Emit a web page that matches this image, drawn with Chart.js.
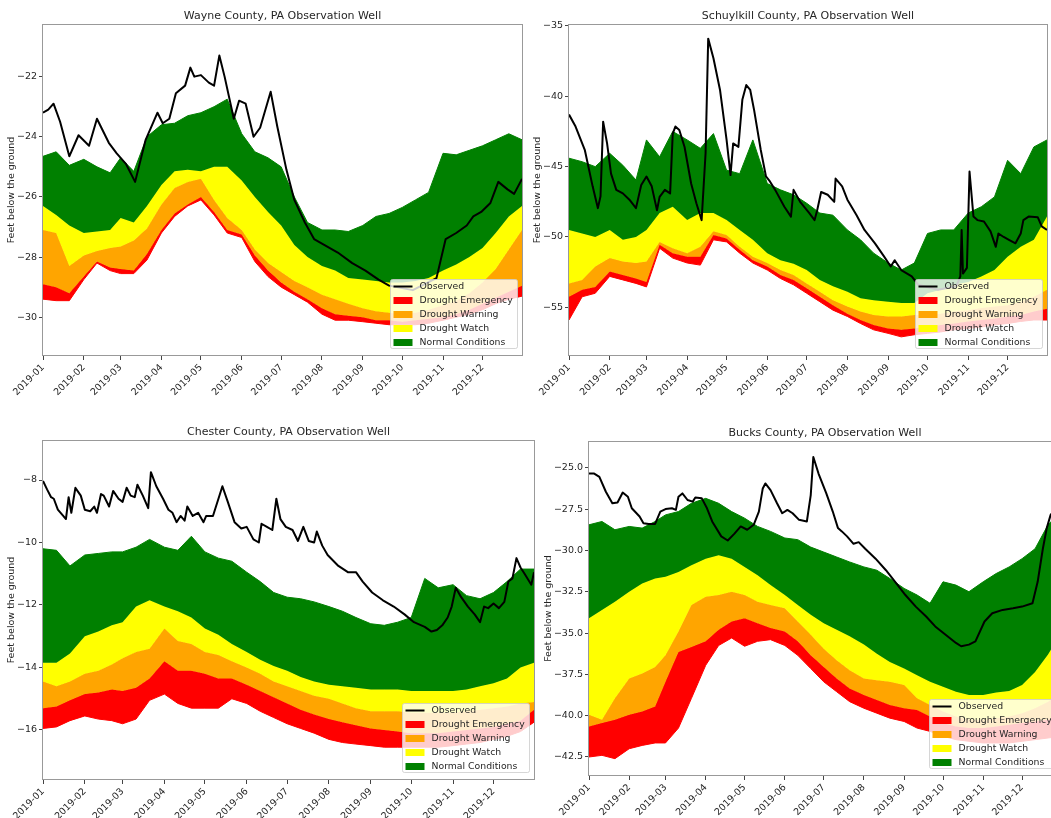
<!DOCTYPE html>
<html>
<head>
<meta charset="utf-8">
<title>Observation wells 2019</title>
<script src="https://cdn.jsdelivr.net/npm/chart.js@4.4.1/dist/chart.umd.min.js"></script>
<style>
  html, body { margin: 0; padding: 0; background: #fff; overflow: hidden; }
  body { width: 1051px; height: 818px; position: relative; }
  canvas { position: absolute; }
</style>
</head>
<body>
<canvas id="wayne"></canvas>
<canvas id="schuylkill"></canvas>
<canvas id="chester"></canvas>
<canvas id="bucks"></canvas>
<script>
// day-of-year sample points shared by all drought band boundaries
const days = [0,10,20,31,41,51,59,69,79,90,100,110,120,130,140,151,161,171,181,191,201,212,222,232,243,253,263,273,283,293,304,314,324,334,344,354,364];
const monthDays = [0,31,59,90,120,151,181,212,243,273,304,334];
const monthLabels = ['2019-01','2019-02','2019-03','2019-04','2019-05','2019-06','2019-07','2019-08','2019-09','2019-10','2019-11','2019-12'];

// Wayne County
const wayneObsDays = [0,4,8,13,20,27,35,41,50,56,63,70,78,87,91,96,101,108,112,115,120,126,130,134,138,145,149,154,160,165,173,178,185,191,199,206,214,224,235,245,255,263,281,299,306,314,322,327,333,340,346,353,358,364];
const wayneObs = [-23.2,-23.1,-22.9,-23.5,-24.65,-23.95,-24.3,-23.4,-24.2,-24.55,-24.9,-25.5,-24.1,-23.2,-23.55,-23.4,-22.55,-22.3,-21.7,-22.0,-21.95,-22.2,-22.3,-21.3,-22.0,-23.4,-22.8,-22.9,-24.0,-23.7,-22.5,-23.65,-25.1,-26.1,-26.85,-27.4,-27.6,-27.85,-28.2,-28.45,-28.75,-28.95,-29.1,-28.7,-27.4,-27.2,-26.95,-26.65,-26.5,-26.2,-25.5,-25.75,-25.9,-25.4];
const wayneNormal = [-24.65,-24.5,-24.95,-24.75,-25.0,-25.2,-24.7,-25.15,-24.0,-23.6,-23.55,-23.3,-23.2,-23.0,-22.75,-23.9,-24.5,-24.7,-25.0,-26.0,-26.85,-27.1,-27.1,-27.15,-26.95,-26.65,-26.55,-26.35,-26.1,-25.85,-24.55,-24.6,-24.45,-24.3,-24.1,-23.9,-24.1];
const wayneWatch = [-26.3,-26.6,-26.95,-27.2,-27.15,-27.1,-26.7,-26.85,-26.3,-25.6,-25.15,-25.1,-25.15,-25.0,-25.0,-25.45,-26.0,-26.5,-26.95,-27.6,-28.0,-28.3,-28.45,-28.7,-28.75,-28.8,-28.85,-28.85,-28.8,-28.7,-28.45,-28.25,-28.0,-27.7,-27.2,-26.65,-26.3];
const wayneWarning = [-27.1,-27.2,-28.3,-27.95,-27.8,-27.7,-27.65,-27.45,-27.05,-26.25,-25.7,-25.5,-25.4,-26.1,-26.7,-27.1,-27.75,-28.2,-28.5,-28.8,-29.0,-29.25,-29.4,-29.55,-29.7,-29.8,-29.85,-29.9,-29.85,-29.75,-29.6,-29.45,-29.2,-28.85,-28.4,-27.75,-27.1];
const wayneEmergency = [-28.9,-29.0,-29.2,-28.65,-28.15,-28.35,-28.4,-28.45,-27.9,-27.1,-26.55,-26.25,-26.0,-26.5,-27.1,-27.25,-27.95,-28.45,-28.85,-29.15,-29.4,-29.7,-29.9,-29.95,-30.0,-30.1,-30.1,-30.15,-30.1,-30.05,-30.0,-29.9,-29.75,-29.55,-29.35,-29.15,-28.95];
const wayneFloor = [-29.4,-29.45,-29.45,-28.75,-28.2,-28.45,-28.55,-28.55,-28.1,-27.2,-26.65,-26.3,-26.1,-26.6,-27.2,-27.35,-28.15,-28.65,-29.0,-29.25,-29.5,-29.9,-30.1,-30.1,-30.15,-30.2,-30.25,-30.25,-30.25,-30.2,-30.1,-30.0,-29.9,-29.75,-29.55,-29.4,-29.3];
const wayneYTicks = [-30,-28,-26,-24,-22];

// Schuylkill County
const schObsDays = [0,5,12,18,22,24,26,29,32,36,41,46,51,55,59,63,67,69,73,77,79,81,84,88,93,97,101,104,106,110,115,120,123,125,129,132,135,138,141,146,150,153,157,164,169,171,176,183,187,189,192,197,202,203,208,212,219,225,233,240,245,248,253,261,266,281,295,298,299,300,303,305,308,311,316,321,325,327,331,335,340,344,346,350,357,360,364];
const schObs = [-41.3,-42.15,-43.8,-46.4,-47.95,-47.1,-41.8,-43.35,-45.5,-46.65,-46.9,-47.35,-47.95,-46.3,-45.7,-46.4,-48.1,-47.15,-46.65,-46.9,-42.65,-42.15,-42.4,-43.6,-46.2,-47.6,-48.8,-44.05,-35.9,-37.3,-39.55,-43.1,-45.6,-43.35,-43.6,-40.25,-39.2,-39.55,-41.0,-43.8,-45.7,-46.05,-46.65,-47.85,-48.55,-46.65,-47.5,-48.3,-48.8,-48.1,-46.8,-47.0,-47.5,-45.85,-46.4,-47.35,-48.45,-49.5,-50.45,-51.4,-52.1,-51.65,-52.35,-52.8,-53.4,-53.75,-53.5,-52.8,-49.5,-52.6,-52.2,-45.35,-48.55,-48.8,-48.9,-49.6,-50.7,-49.75,-50.0,-50.2,-50.45,-49.75,-48.8,-48.55,-48.6,-49.25,-49.5];
const schNormal = [-44.4,-44.65,-45.0,-44.05,-44.9,-45.95,-43.1,-44.3,-42.5,-43.1,-43.7,-42.65,-45.25,-45.5,-43.1,-46.2,-46.65,-47.0,-47.6,-48.3,-48.45,-49.5,-50.2,-51.15,-51.85,-52.35,-51.85,-49.75,-49.5,-49.5,-48.3,-47.85,-47.15,-44.55,-45.5,-43.6,-43.1];
const schWatch = [-49.5,-49.75,-50.0,-49.5,-50.2,-50.0,-49.5,-48.3,-47.85,-48.8,-48.3,-48.3,-48.8,-49.5,-50.2,-51.15,-51.65,-51.9,-52.35,-53.05,-53.5,-53.9,-54.35,-54.5,-54.6,-54.7,-54.7,-54.0,-53.75,-53.4,-53.2,-52.8,-52.35,-51.4,-50.7,-50.2,-48.55];
const schWarning = [-53.3,-53.05,-52.1,-51.5,-51.75,-51.85,-51.75,-50.35,-50.8,-51.15,-50.7,-49.6,-49.85,-50.7,-51.4,-51.85,-52.35,-52.7,-53.3,-53.9,-54.5,-54.95,-55.3,-55.55,-55.65,-55.65,-55.55,-55.55,-55.45,-55.3,-55.2,-55.05,-54.95,-54.85,-54.6,-54.25,-53.75];
const schEmergency = [-54.25,-53.75,-53.55,-52.45,-52.7,-52.95,-53.2,-50.55,-51.15,-51.4,-51.4,-49.85,-50.1,-50.9,-51.65,-52.1,-52.7,-53.05,-53.65,-54.25,-54.85,-55.45,-55.9,-56.25,-56.5,-56.6,-56.5,-56.35,-56.25,-56.15,-56.0,-55.9,-55.8,-55.65,-55.55,-55.3,-55.1];
const schFloor = [-55.9,-54.25,-54.0,-52.8,-53.05,-53.3,-53.55,-50.8,-51.5,-51.85,-52.0,-50.2,-50.35,-51.15,-51.85,-52.35,-52.95,-53.4,-54.0,-54.6,-55.2,-55.65,-56.15,-56.6,-56.85,-57.1,-56.95,-56.85,-56.75,-56.6,-56.5,-56.4,-56.25,-56.15,-56.0,-55.9,-55.9];
const schYTicks = [-55,-50,-45,-40,-35];

// Chester County
const chesterObsDays = [0,3,6,8,11,15,17,19,21,24,28,31,35,38,40,43,45,49,52,56,59,62,65,68,70,74,78,80,84,89,93,96,99,102,105,107,111,115,119,121,126,133,137,142,147,151,156,160,162,166,170,173,176,180,185,189,193,197,201,203,207,211,219,226,232,237,244,252,260,268,275,283,288,292,296,300,303,306,310,315,320,324,327,330,334,338,342,345,348,351,354,357,362,364];
const chesterObs = [-8.03,-8.3,-8.55,-8.6,-8.95,-9.15,-9.25,-8.55,-9.05,-8.25,-8.5,-8.95,-9.0,-8.85,-9.05,-8.45,-8.5,-8.85,-8.35,-8.6,-8.7,-8.25,-8.5,-8.55,-8.15,-8.5,-8.9,-7.75,-8.2,-8.6,-8.95,-9.05,-9.35,-9.15,-9.3,-8.85,-9.15,-9.05,-9.35,-9.15,-9.15,-8.2,-8.7,-9.35,-9.55,-9.5,-9.9,-10.0,-9.4,-9.5,-9.6,-8.6,-9.25,-9.5,-9.6,-9.95,-9.5,-9.95,-10.0,-9.65,-10.1,-10.4,-10.75,-10.95,-10.95,-11.25,-11.6,-11.85,-12.05,-12.3,-12.55,-12.7,-12.85,-12.8,-12.65,-12.4,-12.05,-11.45,-11.75,-12.05,-12.3,-12.55,-12.05,-12.1,-11.95,-12.1,-11.9,-11.25,-11.15,-10.5,-10.8,-11.0,-11.35,-10.95];
const chesterNormal = [-10.2,-10.25,-10.75,-10.4,-10.35,-10.3,-10.3,-10.15,-9.9,-10.15,-10.25,-9.8,-10.3,-10.5,-10.6,-10.95,-11.25,-11.6,-11.75,-11.8,-11.9,-12.05,-12.2,-12.4,-12.6,-12.65,-12.55,-12.4,-11.15,-11.45,-11.35,-11.7,-11.8,-11.6,-11.25,-10.85,-10.85];
const chesterWatch = [-13.85,-13.85,-13.55,-13.0,-12.85,-12.65,-12.55,-12.05,-11.85,-12.05,-12.2,-12.4,-12.75,-12.95,-13.25,-13.5,-13.75,-13.95,-14.1,-14.3,-14.45,-14.55,-14.6,-14.65,-14.7,-14.7,-14.7,-14.75,-14.75,-14.75,-14.75,-14.7,-14.6,-14.5,-14.35,-14.0,-13.85];
const chesterWarning = [-14.45,-14.6,-14.45,-14.2,-14.1,-13.9,-13.7,-13.5,-13.4,-12.75,-13.15,-13.25,-13.5,-13.6,-13.8,-14.0,-14.2,-14.45,-14.6,-14.75,-14.9,-15.0,-15.15,-15.3,-15.4,-15.4,-15.4,-15.45,-15.45,-15.45,-15.45,-15.4,-15.35,-15.3,-15.25,-15.15,-15.1];
const chesterEmergency = [-15.3,-15.25,-15.05,-14.85,-14.8,-14.7,-14.75,-14.65,-14.35,-13.8,-14.1,-14.1,-14.2,-14.35,-14.35,-14.55,-14.75,-14.95,-15.15,-15.35,-15.5,-15.65,-15.75,-15.85,-15.95,-16.0,-16.05,-16.1,-16.1,-16.1,-16.05,-16.0,-15.95,-15.9,-15.8,-15.7,-15.35];
const chesterFloor = [-15.95,-15.9,-15.7,-15.55,-15.65,-15.7,-15.8,-15.65,-15.05,-14.85,-15.15,-15.3,-15.3,-15.3,-15.0,-15.15,-15.4,-15.6,-15.8,-15.95,-16.1,-16.3,-16.4,-16.45,-16.5,-16.55,-16.55,-16.55,-16.55,-16.55,-16.5,-16.45,-16.4,-16.3,-16.2,-16.05,-15.75];
const chesterYTicks = [-16,-14,-12,-10,-8];

// Bucks County
const bucksObsDays = [0,4,8,13,18,22,26,30,33,39,42,46,51,55,59,64,67,69,72,76,80,82,87,91,95,102,107,112,117,122,127,131,134,136,140,145,149,153,157,162,168,171,173,177,183,188,192,195,199,204,208,213,221,229,237,244,252,260,267,275,283,287,293,298,305,311,319,327,334,342,346,350,353,356,364];
const bucksObs = [-25.35,-25.35,-25.55,-26.45,-27.15,-27.1,-26.5,-26.75,-27.45,-27.95,-28.35,-28.4,-28.4,-27.65,-27.5,-27.45,-27.55,-26.75,-26.55,-26.95,-27.05,-26.8,-26.85,-27.45,-28.25,-29.15,-29.4,-29.0,-28.55,-28.75,-28.45,-27.65,-26.25,-25.95,-26.35,-27.15,-27.75,-27.55,-27.75,-28.15,-28.25,-26.65,-24.35,-25.35,-26.55,-27.65,-28.65,-28.85,-29.15,-29.6,-29.5,-29.9,-30.5,-31.2,-32.0,-32.7,-33.4,-34.0,-34.6,-35.1,-35.6,-35.8,-35.7,-35.5,-34.3,-33.8,-33.6,-33.5,-33.4,-33.2,-31.9,-29.9,-28.65,-27.85,-27.05];
const bucksNormal = [-28.45,-28.25,-28.75,-28.55,-28.65,-28.25,-27.85,-27.65,-27.15,-26.85,-27.15,-27.65,-28.05,-28.55,-28.85,-29.25,-29.35,-29.8,-30.1,-30.4,-30.7,-31.0,-31.2,-31.7,-32.3,-32.7,-33.2,-31.9,-32.1,-32.5,-31.9,-31.4,-31.0,-30.5,-29.9,-28.45,-27.65];
const bucksWatch = [-34.1,-33.6,-33.1,-32.5,-32.0,-31.7,-31.6,-31.3,-30.9,-30.5,-30.3,-30.5,-31.0,-31.5,-32.1,-32.7,-33.3,-33.9,-34.4,-34.8,-35.2,-35.7,-36.25,-36.75,-37.15,-37.55,-37.95,-38.25,-38.55,-38.75,-38.75,-38.6,-38.5,-38.15,-37.35,-36.3,-35.0];
const bucksWarning = [-39.95,-40.25,-38.95,-37.75,-37.45,-37.05,-36.35,-34.9,-33.3,-32.8,-32.7,-32.5,-32.7,-33.1,-33.3,-33.5,-34.3,-35.1,-35.95,-36.65,-37.25,-37.75,-37.85,-37.95,-38.15,-38.95,-39.35,-39.75,-40.05,-40.25,-40.25,-40.15,-40.05,-39.85,-39.55,-39.15,-38.55];
const bucksEmergency = [-40.65,-40.45,-40.25,-39.95,-39.75,-39.45,-37.95,-36.15,-35.85,-35.5,-34.8,-34.3,-34.1,-34.4,-34.7,-34.9,-35.5,-36.35,-37.05,-37.75,-38.35,-38.75,-39.05,-39.35,-39.55,-39.65,-40.05,-40.45,-40.65,-40.75,-40.75,-40.65,-40.55,-40.45,-40.35,-40.25,-40.15];
const bucksFloor = [-42.5,-42.4,-42.6,-42.0,-41.8,-41.65,-41.65,-40.75,-38.95,-36.95,-35.75,-35.3,-35.8,-35.5,-35.4,-35.75,-36.35,-37.15,-37.95,-38.55,-39.15,-39.55,-39.85,-40.15,-40.35,-40.75,-40.95,-41.25,-41.45,-41.55,-41.65,-41.65,-41.65,-41.55,-41.45,-41.35,-41.25];
const bucksYTicks = [-42.5,-40,-37.5,-35,-32.5,-30,-27.5,-25];

Chart.defaults.font.family = "'DejaVu Sans', sans-serif";
Chart.defaults.color = '#262626';

const GREEN = '#008000', YELLOW = '#ffff00', ORANGE = '#ffa500', RED = '#ff0000';
const TITLE_H = 24, XAXIS_H = 52, PAD_R = 4;
const LEGEND_ORDER = ['Observed', 'Drought Emergency', 'Drought Warning', 'Drought Watch', 'Normal Conditions'];

function feet(v, dec) {
  return (v < 0 ? '\u2212' : '') + Math.abs(v).toFixed(dec);
}

// all four spines around the plot area
const frame = {
  id: 'frame',
  afterDatasetsDraw(chart) {
    const {ctx, chartArea: a} = chart;
    ctx.save();
    ctx.strokeStyle = '#999';
    ctx.lineWidth = 1;
    ctx.strokeRect(Math.round(a.left) - 0.5, Math.round(a.top) + 0.5,
      Math.round(a.right - a.left) + 1, Math.round(a.bottom - a.top) - 1);
    ctx.restore();
  }
};

// lower-right legend box, drawn over the bands
const boxLegend = {
  id: 'boxLegend',
  afterDraw(chart) {
    const {ctx, chartArea: a} = chart;
    const w = 127, h = 69, row = 14, r = 2;
    const x0 = Math.round(a.right - 5 - w) + 0.5, y0 = Math.round(a.bottom - 8 - h) + 0.5;
    ctx.save();
    ctx.beginPath();
    ctx.moveTo(x0 + r, y0);
    ctx.arcTo(x0 + w, y0, x0 + w, y0 + h, r);
    ctx.arcTo(x0 + w, y0 + h, x0, y0 + h, r);
    ctx.arcTo(x0, y0 + h, x0, y0, r);
    ctx.arcTo(x0, y0, x0 + w, y0, r);
    ctx.closePath();
    ctx.fillStyle = 'rgba(255,255,255,0.8)';
    ctx.fill();
    ctx.strokeStyle = 'rgba(204,204,204,0.8)';
    ctx.lineWidth = 1;
    ctx.stroke();
    ctx.font = "9.3px 'DejaVu Sans'";
    ctx.textBaseline = 'middle';
    LEGEND_ORDER.forEach((label, i) => {
      const ds = chart.data.datasets.find(d => d.label === label);
      const y = y0 + 7 + i * row;
      if (label === 'Observed') {
        ctx.strokeStyle = ds.borderColor;
        ctx.lineWidth = 2;
        ctx.beginPath();
        ctx.moveTo(x0 + 3, y);
        ctx.lineTo(x0 + 22, y);
        ctx.stroke();
      } else {
        ctx.fillStyle = ds.backgroundColor;
        ctx.fillRect(x0 + 3, y - 3.5, 19, 7);
      }
      ctx.fillStyle = '#262626';
      ctx.fillText(label, x0 + 29, y + 0.5);
    });
    ctx.restore();
  }
};

function band(label, color, values) {
  return {
    label: label,
    data: days.map((d, i) => ({x: d, y: values[i]})),
    backgroundColor: color,
    borderColor: color,
    borderWidth: 1,
    fill: '+1'
  };
}

function wellChart(id, title, box, axisW, yMin, yMax, yTicks, dec, obsDays, obs, normal, watch, warning, emergency, floor) {
  const canvas = document.getElementById(id);
  const w = box.r - box.l + axisW + PAD_R;
  const h = box.b - box.t + TITLE_H + XAXIS_H;
  canvas.width = w;
  canvas.height = h;
  canvas.style.width = w + 'px';
  canvas.style.height = h + 'px';
  canvas.style.left = (box.l - axisW) + 'px';
  canvas.style.top = (box.t - TITLE_H) + 'px';

  new Chart(canvas, {
    type: 'line',
    data: {
      datasets: [
        {
          label: 'Observed',
          data: obsDays.map((d, i) => ({x: d, y: obs[i]})),
          borderColor: '#000',
          borderWidth: 2,
          borderJoinStyle: 'round',
          fill: false
        },
        band('Normal Conditions', GREEN, normal),
        band('Drought Watch', YELLOW, watch),
        band('Drought Warning', ORANGE, warning),
        band('Drought Emergency', RED, emergency),
        {
          data: days.map((d, i) => ({x: d, y: floor[i]})),
          borderColor: RED,
          borderWidth: 1,
          fill: false
        }
      ]
    },
    options: {
      responsive: false,
      animation: false,
      devicePixelRatio: 1,
      events: [],
      layout: {padding: {left: 0, right: PAD_R, top: 0, bottom: 0}},
      elements: {point: {radius: 0}, line: {tension: 0}},
      plugins: {
        legend: {display: false},
        tooltip: {enabled: false},
        title: {
          display: true,
          text: title,
          fullSize: false,
          color: '#262626',
          font: {size: 11, weight: 'normal'},
          padding: {top: 10, bottom: 0.8}
        }
      },
      scales: {
        x: {
          type: 'linear',
          min: 0,
          max: 364,
          afterBuildTicks: s => { s.ticks = monthDays.map(v => ({value: v})); },
          afterFit: s => { s.height = XAXIS_H; },
          ticks: {
            autoSkip: false,
            minRotation: 45,
            maxRotation: 45,
            padding: 2,
            font: {size: 9.5},
            callback: (v, i) => monthLabels[i]
          },
          grid: {drawOnChartArea: false, drawTicks: true, tickLength: 4, color: '#444'},
          border: {display: false}
        },
        y: {
          type: 'linear',
          min: yMin,
          max: yMax,
          afterBuildTicks: s => { s.ticks = yTicks.map(v => ({value: v})); },
          afterFit: s => { s.width = axisW; },
          ticks: {
            padding: 2,
            font: {size: 9.5},
            callback: v => feet(v, dec)
          },
          grid: {drawOnChartArea: false, drawTicks: true, tickLength: 4, color: '#444'},
          border: {display: false},
          title: {
            display: true,
            text: 'Feet below the ground',
            font: {size: 9.5},
            color: '#262626',
            padding: {top: 6, bottom: 0}
          }
        }
      }
    },
    plugins: [frame, boxLegend]
  });
}

wellChart('wayne', 'Wayne County, PA Observation Well',
  {l: 43, t: 24, r: 522, b: 356}, 43, -31.29, -20.25, wayneYTicks, 0,
  wayneObsDays, wayneObs, wayneNormal, wayneWatch, wayneWarning, wayneEmergency, wayneFloor);

wellChart('schuylkill', 'Schuylkill County, PA Observation Well',
  {l: 569, t: 24, r: 1047, b: 356}, 43, -58.46, -34.86, schYTicks, 0,
  schObsDays, schObs, schNormal, schWatch, schWarning, schEmergency, schFloor);

wellChart('chester', 'Chester County, PA Observation Well',
  {l: 43, t: 440, r: 534, b: 780}, 43, -17.6, -6.72, chesterYTicks, 0,
  chesterObsDays, chesterObs, chesterNormal, chesterWatch, chesterWarning, chesterEmergency, chesterFloor);

wellChart('bucks', 'Bucks County, PA Observation Well',
  {l: 589, t: 441, r: 1061, b: 776}, 52, -43.65, -23.38, bucksYTicks, 1,
  bucksObsDays, bucksObs, bucksNormal, bucksWatch, bucksWarning, bucksEmergency, bucksFloor);
</script>
</body>
</html>
